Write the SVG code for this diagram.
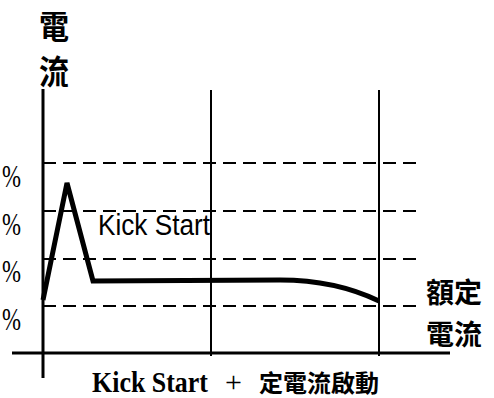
<svg xmlns="http://www.w3.org/2000/svg" width="494" height="398" viewBox="0 0 494 398">
<style>
.axis{stroke:#000;stroke-width:3;fill:none}
.vline{stroke:#000;stroke-width:2;fill:none}
.dash{stroke:#000;stroke-width:2;stroke-dasharray:13 7;fill:none}
.curve{stroke:#000;stroke-width:5;fill:none;stroke-linejoin:miter}
.cjk{font-family:"Noto Sans CJK TC","Noto Sans CJK SC",sans-serif;font-weight:bold;fill:#000}
.pct{font-family:"Liberation Serif",serif;font-size:31px;fill:#000}
.ks{font-family:"Liberation Sans",Arial,sans-serif;font-size:29px;fill:#000}
.cap{font-family:"Liberation Serif","Noto Sans CJK TC",serif;font-weight:bold;fill:#000}
</style>
<rect width="494" height="398" fill="#fff"/>
<g id="connectors">
<line class="dash" x1="43" y1="163" x2="423" y2="163"/>
<line class="dash" x1="43" y1="211" x2="423" y2="211"/>
<line class="dash" x1="43" y1="259" x2="423" y2="259"/>
<line class="dash" x1="43" y1="306" x2="423" y2="306"/>
<line class="vline" x1="211" y1="90" x2="211" y2="356"/>
<line class="vline" x1="379" y1="90" x2="379" y2="356"/>
<line class="axis" x1="43" y1="89" x2="43" y2="378"/>
<line class="axis" x1="12" y1="353" x2="450" y2="353"/>
<path class="curve" d="M43,300 L67,183 L93,281 L280,280 C320,280 350,287 379,301"/>
</g>
<g id="y-title" transform="translate(0,-4) scale(1,1.1)"><text class="cjk" font-size="30" x="39" y="39">電</text><text class="cjk" font-size="30" x="39" y="80">流</text></g>
<g id="pct-labels">
<text class="pct" x="2" y="187" textLength="19" lengthAdjust="spacingAndGlyphs">%</text>
<text class="pct" x="2" y="235" textLength="19" lengthAdjust="spacingAndGlyphs">%</text>
<text class="pct" x="2" y="282" textLength="19" lengthAdjust="spacingAndGlyphs">%</text>
<text class="pct" x="2" y="330" textLength="19" lengthAdjust="spacingAndGlyphs">%</text>
</g>
<g id="kick-label"><text class="ks" x="98" y="235" textLength="112" lengthAdjust="spacingAndGlyphs">Kick Start</text></g>
<g id="rated-label"><text class="cjk" font-size="28" x="426" y="303">額定</text><text class="cjk" font-size="28" x="426" y="345">電流</text></g>
<g id="caption"><text class="cap" y="392"><tspan x="92" font-size="30" textLength="116" lengthAdjust="spacingAndGlyphs">Kick Start</tspan><tspan x="225" font-size="30" font-weight="normal">+</tspan><tspan x="259" font-size="24" class="cjk">定電流啟動</tspan></text></g>
</svg>
